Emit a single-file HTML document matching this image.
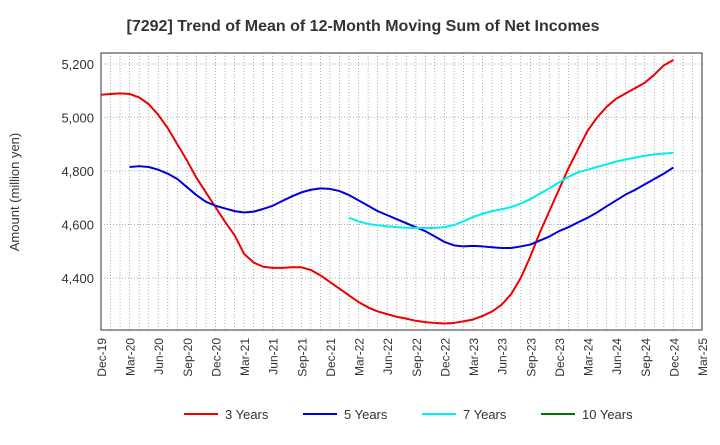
<!DOCTYPE html>
<html><head><meta charset="utf-8"><style>body{margin:0;background:#fff;font-family:"Liberation Sans",sans-serif}</style></head>
<body>
<svg width="720" height="440" xmlns="http://www.w3.org/2000/svg" font-family="Liberation Sans, sans-serif">
<text x="363" y="31" text-anchor="middle" font-size="16" font-weight="bold" fill="#333">[7292]  Trend of Mean of 12-Month Moving Sum of Net Incomes</text>
<g id="grid"></g><g id="axes"></g><g id="series"></g><g id="legend"></g>
</svg>
<script>
const xLabels=["Dec-19","Mar-20","Jun-20","Sep-20","Dec-20","Mar-21","Jun-21","Sep-21","Dec-21","Mar-22","Jun-22","Sep-22","Dec-22","Mar-23","Jun-23","Sep-23","Dec-23","Mar-24","Jun-24","Sep-24","Dec-24","Mar-25"];
const yTicks=[4400,4600,4800,5000,5200];
const s3=[5085,5088,5090,5088,5075,5050,5010,4960,4900,4840,4775,4720,4665,4610,4560,4490,4458,4442,4438,4438,4440,4440,4430,4410,4385,4360,4335,4310,4290,4275,4265,4255,4248,4240,4235,4232,4230,4232,4238,4245,4258,4275,4300,4340,4400,4480,4570,4650,4730,4810,4880,4950,5000,5040,5070,5090,5110,5130,5160,5195,5215];
const s3Start=0;
const s5=[4815,4818,4815,4805,4790,4770,4740,4710,4685,4670,4660,4650,4645,4648,4658,4670,4688,4705,4720,4730,4735,4733,4725,4710,4690,4670,4650,4635,4620,4605,4590,4575,4555,4535,4522,4518,4520,4518,4515,4512,4512,4518,4525,4540,4555,4575,4590,4608,4625,4645,4668,4690,4712,4730,4750,4770,4790,4813];
const s5Start=3;
const s7=[4625,4612,4602,4597,4593,4590,4588,4587,4587,4587,4590,4598,4612,4628,4640,4650,4657,4665,4678,4695,4715,4735,4757,4778,4795,4805,4815,4825,4835,4843,4850,4857,4862,4865,4868];
const s7Start=26;
const s10=[];
const ns="http://www.w3.org/2000/svg";
const L=101,R=702,T=53,B=330;
const xm=m=>L+m*(R-L)/63;
const yv=v=>64+(5200-v)*0.2675;
function mk(tag,parent,attrs){const e=document.createElementNS(ns,tag);for(const k in attrs)e.setAttribute(k,attrs[k]);document.getElementById(parent).appendChild(e);return e;}
for(let m=1;m<63;m++){const e=mk('line','grid',{x1:xm(m),x2:xm(m),y1:T,y2:B,stroke:'#999','stroke-width':0.8,'stroke-dasharray':'1,2'});

}
yTicks.forEach(v=>{const e=mk('line','grid',{x1:L,x2:R,y1:yv(v),y2:yv(v),stroke:'#999','stroke-width':0.8,'stroke-dasharray':'1,2'});


const t=mk('text','axes',{x:L-7,y:yv(v)+5,'text-anchor':'end','font-size':13,fill:'#333'});t.textContent=v.toLocaleString('en-US');

});
const fr=mk('rect','axes',{x:L,y:T,width:R-L,height:B-T,fill:'none',stroke:'#333','stroke-width':1});


xLabels.forEach((lb,i)=>{const x=xm(i*3);const t=mk('text','axes',{x:x+5,y:B+8,'text-anchor':'end','font-size':12,fill:'#333',transform:`rotate(-90 ${x+5} ${B+8})`});t.textContent=lb;

});
const yt=mk('text','axes',{x:19,y:192,'text-anchor':'middle','font-size':13,fill:'#333',transform:'rotate(-90 19 192)'});yt.textContent='Amount (million yen)';


function line(arr,start,col,name){if(!arr.length)return;const p=mk('polyline','series',{points:arr.map((v,i)=>xm(start+i)+','+yv(v)).join(' '),fill:'none',stroke:col,'stroke-width':2,'stroke-linejoin':'round'});

}
line(s3,s3Start,'#ee0000','series-3-years');
line(s5,s5Start,'#0000dd','series-5-years');
line(s7,s7Start,'#00eeee','series-7-years');
line(s10,0,'#007700','series-10-years');
[['3 Years','#ee0000',184],['5 Years','#0000dd',303],['7 Years','#00eeee',422],['10 Years','#007700',541]].forEach(([n,c,x])=>{
const g=mk('g','legend',{});


const l=document.createElementNS(ns,'line');l.setAttribute('x1',x);l.setAttribute('x2',x+34);l.setAttribute('y1',414);l.setAttribute('y2',414);l.setAttribute('stroke',c);l.setAttribute('stroke-width',2);g.appendChild(l);
const t=document.createElementNS(ns,'text');t.setAttribute('x',x+41);t.setAttribute('y',419);t.setAttribute('font-size',13);t.setAttribute('fill','#333');t.textContent=n;g.appendChild(t);});
</script>
</body></html>
